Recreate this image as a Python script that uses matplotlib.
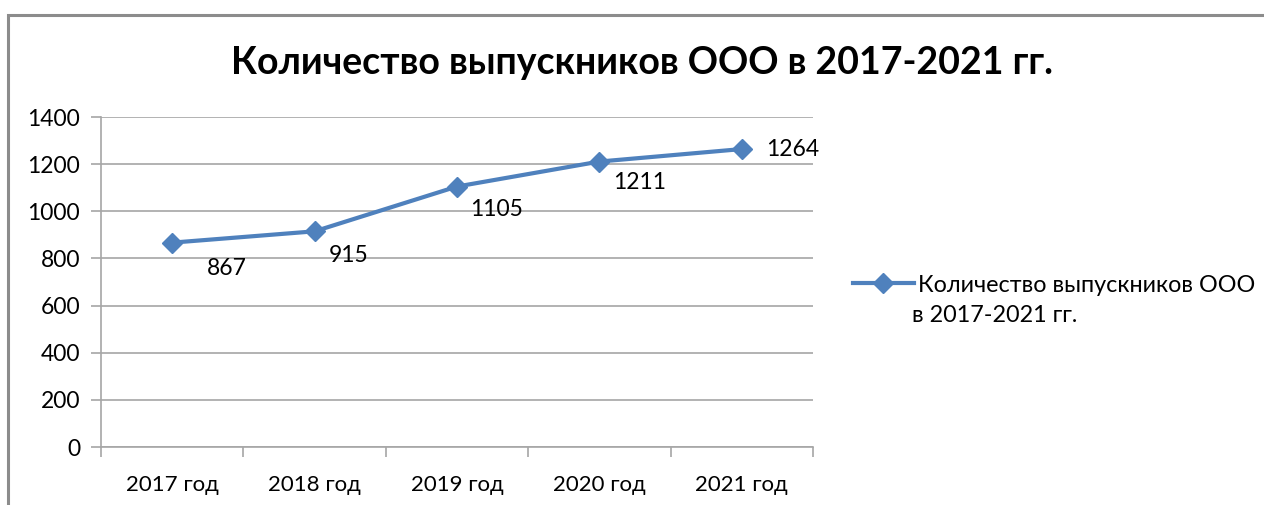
import matplotlib
matplotlib.use("Agg")
import matplotlib.pyplot as plt
from matplotlib.patches import Rectangle
from matplotlib.lines import Line2D

categories = ["2017 год", "2018 год", "2019 год", "2020 год", "2021 год"]
values = [867, 915, 1105, 1211, 1264]
yticks = [0, 200, 400, 600, 800, 1000, 1200, 1400]
title = "Количество выпускников ООО в 2017-2021 гг."
series_name = "Количество выпускников ООО"
series_name2 = "в 2017-2021 гг."

plt.rcParams['font.family'] = ['Lato', 'DejaVu Sans']

W, H = 1264, 505
fig = plt.figure(figsize=(W / 100, H / 100), dpi=100)

# chart border (partial, as in reference)
fig.patches.append(Rectangle((8 / W, -0.1), 1.2, (H - 15) / H + 0.1, transform=fig.transFigure,
                             fill=False, edgecolor="#8c8c8c", linewidth=2.2))

left, right, top, bottom = 101, 813, 117, 447
ax = fig.add_axes([left / W, 1 - bottom / H, (right - left) / W, (bottom - top) / H])

color = "#4F81BD"
x = list(range(len(categories)))
line, = ax.plot(x, values, color=color, linewidth=3, marker="D", markersize=10,
                markeredgecolor=color, label=series_name, zorder=3)

ax.set_xlim(-0.5, len(categories) - 0.5)
ax.set_ylim(0, 1400)
ax.set_yticks(yticks)
ax.set_yticklabels([str(v) for v in yticks], fontsize=16.5)
ax.yaxis.grid(True, color="#a6a6a6", linewidth=1.2)
ax.set_axisbelow(True)

ax.set_xticks(x)
ax.set_xticklabels(categories, fontsize=16)
ax.tick_params(axis="x", length=0, pad=20)
ax.set_xticks([i - 0.5 for i in range(len(categories) + 1)], minor=True)
ax.tick_params(axis="x", which="minor", length=7, color="#a6a6a6", width=1.2)
ax.tick_params(axis="y", length=7, color="#a6a6a6", width=1.2, pad=8)

for s in ["top", "right"]:
    ax.spines[s].set_visible(False)
for s in ["left", "bottom"]:
    ax.spines[s].set_color("#a6a6a6")
    ax.spines[s].set_linewidth(1.2)

offsets = [(55, -26), (34, -24), (40, -23), (40, -21), (51, 0)]
for xi, v, off in zip(x, values, offsets):
    ax.annotate(str(v), (xi, v), xytext=off, textcoords="offset pixels",
                ha="center", va="center", fontsize=16.5, color="#000000")

fig.text(642 / W, 1 - 63 / H, title, ha="center", va="center", fontsize=27, fontweight="bold")

handle = Line2D([], [], color=color, linewidth=3, marker="D", markersize=10, markeredgecolor=color)
leg = fig.legend(handles=[handle], labels=[series_name], loc="center left",
                 bbox_to_anchor=(853 / W, 1 - 285 / H),
                 frameon=False, fontsize=16.8, handlelength=2.6, handletextpad=0.2,
                 borderaxespad=0, borderpad=0)
fig.text(912 / W, 1 - 316 / H, series_name2, ha="left", va="center", fontsize=16.8)

fig.savefig("out.png", dpi=100)
